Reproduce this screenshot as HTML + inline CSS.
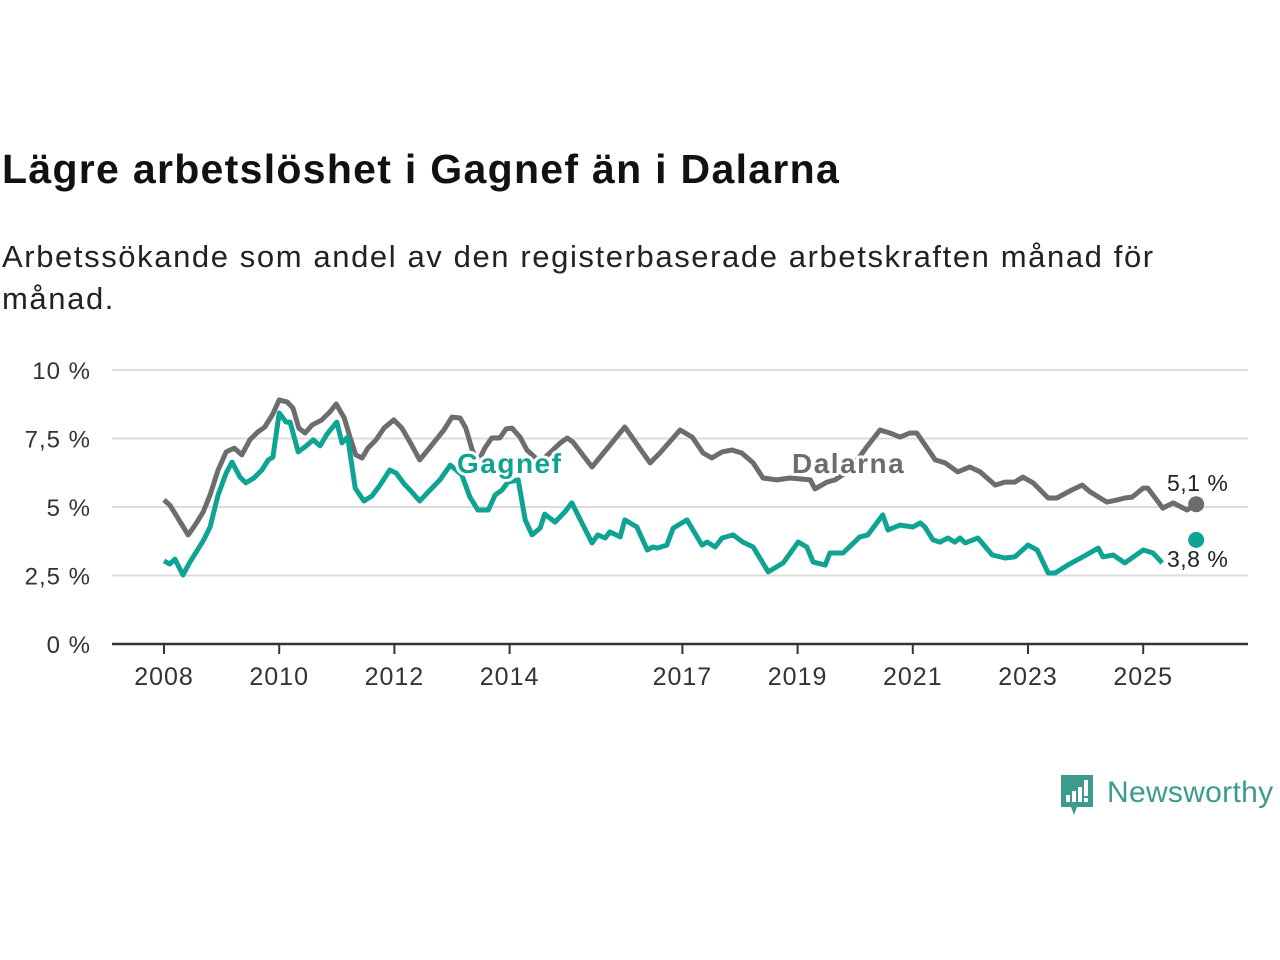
<!DOCTYPE html>
<html><head><meta charset="utf-8"><style>
body{margin:0;background:#fff;width:1280px;height:960px;overflow:hidden;font-family:"Liberation Sans",sans-serif;}
#title{position:absolute;left:2px;top:146px;font-size:41px;font-weight:bold;color:#111;margin:0;letter-spacing:1.3px}
#sub{position:absolute;left:2px;top:236px;font-size:31px;color:#222;line-height:42px;width:1180px;margin:0;letter-spacing:1.6px}
svg{position:absolute;left:0;top:0}
</style></head><body>
<h1 id="title">Lägre arbetslöshet i Gagnef än i Dalarna</h1>
<p id="sub">Arbetssökande som andel av den registerbaserade arbetskraften månad för månad.</p>
<svg id="chart" width="1280" height="960"></svg>
<script>
const yTicks=[0,2.5,5,7.5,10];
const yTickLabels=["0 %","2,5 %","5 %","7,5 %","10 %"];
const xTicks=[2008,2010,2012,2014,2017,2019,2021,2023,2025];
const dalarnaYears=[2008.00,2008.10,2008.24,2008.42,2008.54,2008.68,2008.80,2008.94,2009.08,2009.22,2009.35,2009.49,2009.63,2009.75,2009.88,2010.00,2010.14,2010.24,2010.34,2010.45,2010.57,2010.74,2010.88,2010.99,2011.13,2011.23,2011.33,2011.44,2011.54,2011.68,2011.82,2011.99,2012.13,2012.27,2012.44,2012.58,2012.72,2012.86,2013.00,2013.14,2013.24,2013.35,2013.45,2013.57,2013.69,2013.83,2013.94,2014.04,2014.18,2014.30,2014.53,2014.88,2015.00,2015.10,2015.43,2016.00,2016.44,2016.61,2016.96,2017.17,2017.36,2017.51,2017.69,2017.86,2018.03,2018.23,2018.40,2018.64,2018.87,2019.22,2019.30,2019.51,2019.65,2019.91,2020.20,2020.43,2020.60,2020.78,2020.95,2021.07,2021.39,2021.56,2021.78,2021.99,2022.17,2022.43,2022.60,2022.77,2022.91,2023.09,2023.35,2023.50,2023.76,2023.94,2024.08,2024.37,2024.55,2024.68,2024.81,2025.00,2025.08,2025.34,2025.52,2025.76,2025.92];
const dalarnaValues=[5.26,5.07,4.60,3.98,4.34,4.82,5.44,6.35,7.01,7.15,6.90,7.45,7.74,7.92,8.36,8.91,8.83,8.61,7.88,7.70,7.99,8.18,8.47,8.76,8.25,7.55,6.90,6.79,7.15,7.45,7.88,8.18,7.88,7.37,6.72,7.08,7.45,7.81,8.28,8.25,7.88,7.08,6.64,7.15,7.52,7.52,7.85,7.88,7.55,7.08,6.64,7.34,7.52,7.37,6.46,7.92,6.61,6.97,7.81,7.55,6.97,6.79,7.01,7.08,6.97,6.61,6.06,5.99,6.06,5.99,5.66,5.91,5.99,6.35,7.19,7.81,7.70,7.55,7.70,7.70,6.72,6.61,6.28,6.46,6.28,5.80,5.91,5.91,6.09,5.88,5.33,5.33,5.62,5.80,5.55,5.18,5.26,5.33,5.36,5.69,5.69,4.96,5.15,4.89,5.1];
const gagnefYears=[2008.00,2008.10,2008.19,2008.33,2008.45,2008.56,2008.69,2008.80,2008.94,2009.08,2009.18,2009.32,2009.42,2009.56,2009.70,2009.81,2009.89,2010.00,2010.12,2010.19,2010.33,2010.47,2010.59,2010.71,2010.83,2011.00,2011.09,2011.19,2011.32,2011.47,2011.61,2011.75,2011.92,2012.03,2012.17,2012.27,2012.44,2012.62,2012.79,2012.97,2013.17,2013.31,2013.45,2013.63,2013.75,2013.87,2013.97,2014.15,2014.27,2014.39,2014.53,2014.61,2014.79,2014.96,2015.08,2015.43,2015.53,2015.66,2015.74,2015.92,2016.00,2016.21,2016.39,2016.49,2016.56,2016.73,2016.84,2017.08,2017.34,2017.43,2017.57,2017.69,2017.88,2018.05,2018.23,2018.49,2018.75,2019.01,2019.16,2019.27,2019.48,2019.56,2019.79,2020.08,2020.22,2020.48,2020.57,2020.78,2021.00,2021.13,2021.21,2021.35,2021.47,2021.61,2021.73,2021.82,2021.91,2022.13,2022.38,2022.60,2022.77,2023.00,2023.16,2023.35,2023.47,2023.69,2023.95,2024.22,2024.30,2024.48,2024.68,2025.00,2025.17,2025.33];
const gagnefValues=[3.03,2.92,3.10,2.52,2.99,3.36,3.80,4.27,5.44,6.24,6.64,6.09,5.88,6.06,6.35,6.72,6.82,8.43,8.10,8.10,7.01,7.23,7.45,7.23,7.66,8.10,7.34,7.55,5.69,5.22,5.40,5.80,6.35,6.24,5.84,5.62,5.22,5.62,5.99,6.53,6.17,5.36,4.89,4.89,5.44,5.62,5.91,5.99,4.53,3.98,4.23,4.74,4.45,4.82,5.15,3.69,3.98,3.87,4.09,3.91,4.53,4.27,3.43,3.54,3.50,3.61,4.23,4.53,3.61,3.72,3.54,3.87,3.98,3.72,3.54,2.63,2.96,3.72,3.54,2.99,2.88,3.32,3.32,3.91,3.98,4.71,4.16,4.34,4.27,4.42,4.27,3.80,3.72,3.87,3.72,3.87,3.69,3.87,3.25,3.14,3.18,3.61,3.43,2.59,2.59,2.88,3.18,3.50,3.18,3.25,2.96,3.43,3.32,2.96];
const gagnefLast=[2025.92,3.8];
const NS="http://www.w3.org/2000/svg";
const svg=document.getElementById('chart');
const X=y=>164+(y-2008)*57.6;
const Y=v=>644-v*27.4;
function mk(t,a,p){const e=document.createElementNS(NS,t);for(const k in a)e.setAttribute(k,a[k]);(p||svg).appendChild(e);return e;}
yTicks.forEach((v,i)=>{
 if(v>0){const g=mk('line',{x1:112,x2:1248,y1:Y(v),y2:Y(v),stroke:'#dcdcdc','stroke-width':2});
 
 }
 const t=mk('text',{x:91,y:Y(v)+9,'text-anchor':'end','font-size':24,fill:'#333','letter-spacing':1});
 t.textContent=yTickLabels[i];
 
 
});
const ax=mk('line',{x1:112,x2:1248,y1:644,y2:644,stroke:'#333','stroke-width':2.5});


xTicks.forEach(yr=>{
 const tk=mk('line',{x1:X(yr),x2:X(yr),y1:644,y2:654,stroke:'#333','stroke-width':2});
 
 
 const t=mk('text',{x:X(yr),y:685,'text-anchor':'middle','font-size':25,fill:'#333','letter-spacing':1});
 t.textContent=yr;
 
 
});
function path(xs,vs){return xs.map((x,i)=>(i?'L':'M')+X(x).toFixed(1)+','+Y(vs[i]).toFixed(1)).join('');}
const dl=mk('path',{d:path(dalarnaYears,dalarnaValues),fill:'none',stroke:'#6d6d6d','stroke-width':5,'stroke-linejoin':'round'});


const gl=mk('path',{d:path(gagnefYears,gagnefValues),fill:'none',stroke:'#0fa394','stroke-width':5,'stroke-linejoin':'round'});


const dd=mk('circle',{cx:X(dalarnaYears[dalarnaYears.length-1]),cy:Y(dalarnaValues[dalarnaValues.length-1]),r:8,fill:'#6d6d6d'});


const gd=mk('circle',{cx:X(gagnefLast[0]),cy:Y(gagnefLast[1]),r:8,fill:'#0fa394'});


function lbl(txt,x,y,col,bold,size,name,ls){
 const t=mk('text',{x:x,y:y,'font-size':size,fill:col,'font-weight':bold?'bold':'normal',stroke:'#fff','stroke-width':6,'paint-order':'stroke','stroke-linejoin':'round','letter-spacing':ls});
 t.textContent=txt;
 
 
}
lbl('Gagnef',457,473,'#0fa394',true,28,'gagnef-label',1.5);
lbl('Dalarna',792,473,'#6d6d6d',true,28,'dalarna-label',1.5);
lbl('5,1 %',1167,491,'#222',false,23,'dalarna-value-label',0.5);
lbl('3,8 %',1167,567,'#222',false,23,'gagnef-value-label',0.5);
const logo=mk('g',{});


mk('path',{d:'M1061,775 h32 v32 h-16 l-3,8 l-3,-8 h-10 z',fill:'#3a9b8e'},logo);
mk('rect',{x:1066,y:795,width:4,height:7,fill:'#fff'},logo);
mk('rect',{x:1072,y:791,width:4,height:11,fill:'#fff'},logo);
mk('rect',{x:1078,y:787,width:4,height:15,fill:'#fff'},logo);
mk('rect',{x:1084,y:780,width:4,height:16,fill:'#fff'},logo);
mk('rect',{x:1084,y:798,width:4,height:4,fill:'#fff'},logo);
const lt=mk('text',{x:1107,y:802,'font-size':30,fill:'#3a9b8e','letter-spacing':0.3},logo);
lt.textContent='Newsworthy';
</script>
</body></html>
